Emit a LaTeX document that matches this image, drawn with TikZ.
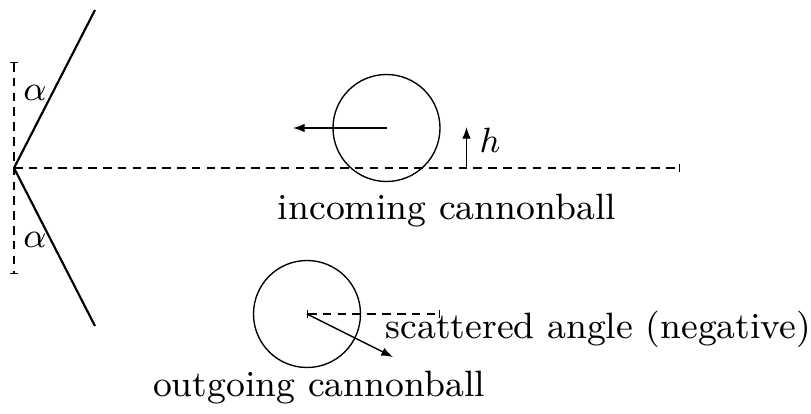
\documentclass[tikz,border=0pt]{standalone}
\usetikzlibrary{arrows.meta}
\begin{document}
\begin{tikzpicture}[x=0.2564pt,y=-0.2564pt,
  wall/.style={line width=0.55pt},
  thin/.style={line width=0.35pt},
  dsh/.style={line width=0.35pt,dash pattern=on 2.2pt off 1.6pt},
  tip/.style={-{Latex[length=3pt,width=2.2pt]}},
  lbl/.style={inner sep=0pt,font=\fontsize{9.4}{11}\selectfont}]
\useasboundingbox (0,0) rectangle (811,414);
\coordinate (apex) at (14,168);
\coordinate (wtop) at (95,10);
\coordinate (wbot) at (95,326);
\coordinate (vtop) at (14,62);
\coordinate (vbot) at (14,274);
\coordinate (hend) at (680,168);
\draw[wall] (wtop) -- (apex) -- (wbot);
\draw[dsh,{Bar[width=2pt]}-{Bar[width=2pt]}] (vtop) -- (vbot);
\draw[dsh,-{Bar[width=2pt]}] (apex) -- (hend);
\node[lbl] (a1) at (35,93) {$\alpha$};
\node[lbl] (a2) at (35,240) {$\alpha$};
% incoming
\coordinate (c1) at (386.5,128);
\draw[thin] (c1) circle (53.5);
\coordinate (v1) at (293,128);
\draw[thin,tip] (c1) -- (v1);
\coordinate (hb) at (466.5,168);
\coordinate (ht) at (466.5,127);
\draw[thin,tip] (hb) -- (ht);
\node[lbl] (h) at (490,140) {$h$};
\node[lbl] (inc) at (447,211) {incoming cannonball};
% outgoing
\coordinate (c2) at (307,314);
\draw[thin] (c2) circle (53.5);
\coordinate (d2) at (440,314);
\draw[dsh,{Bar[width=2pt]}-{Bar[width=2pt]}] (c2) -- (d2);
\coordinate (v2) at (393,357);
\draw[thin,tip] (c2) -- (v2);
\node[lbl,anchor=west] (sc) at (385,329) {scattered angle (negative)};
\node[lbl] (out) at (319,388) {outgoing cannonball};
\end{tikzpicture}
\end{document}
